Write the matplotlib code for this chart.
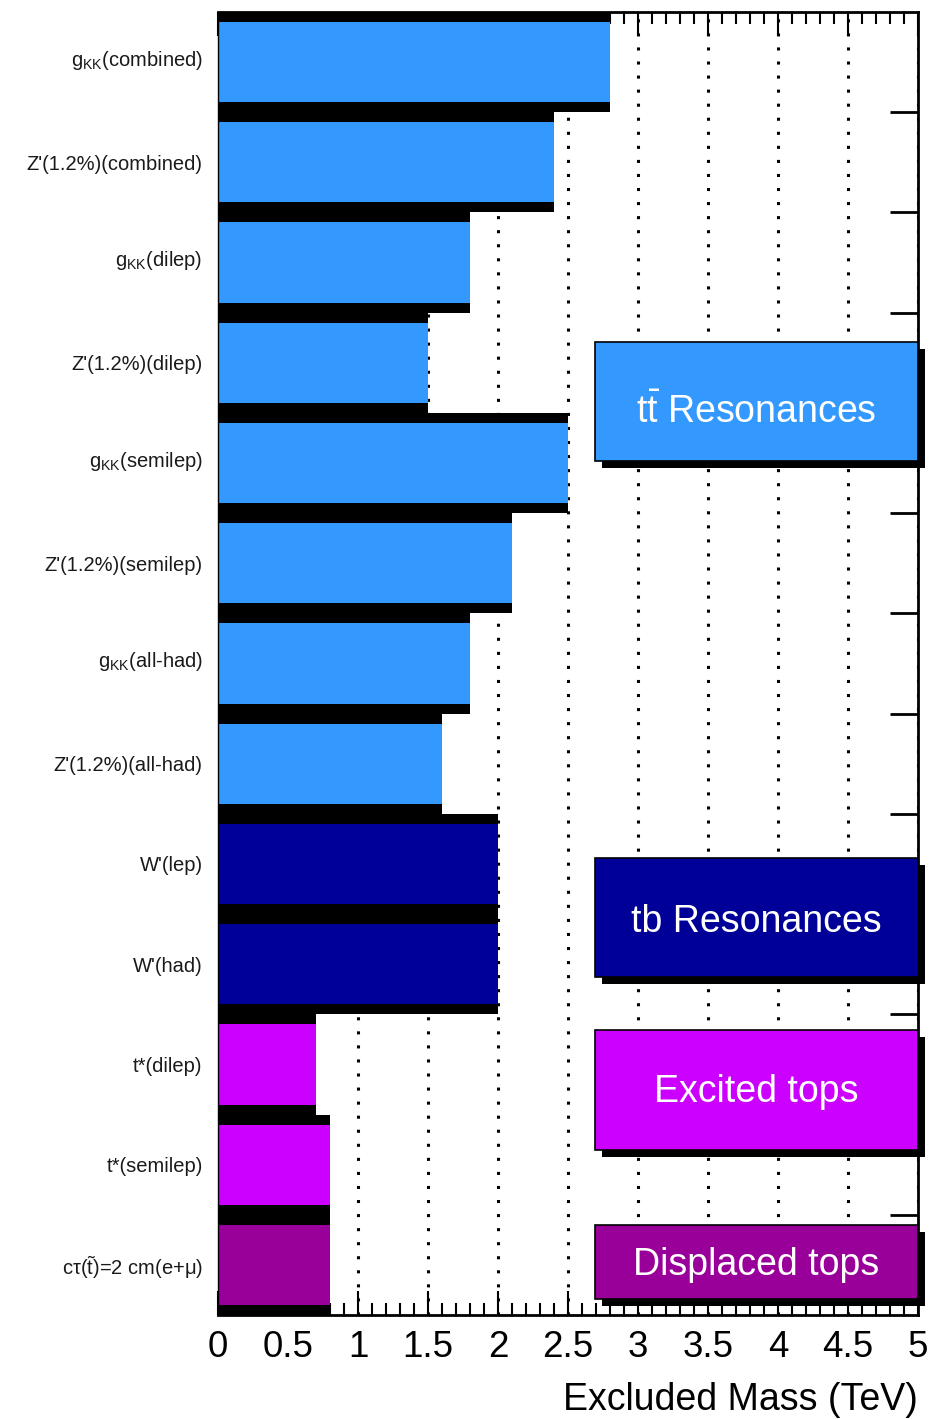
import matplotlib
matplotlib.use("Agg")
import matplotlib.pyplot as plt
from matplotlib.patches import Rectangle
from matplotlib.transforms import offset_copy, ScaledTranslation
from matplotlib.ticker import MultipleLocator, FixedLocator, FuncFormatter

plt.rcParams['font.family'] = ['Liberation Sans', 'DejaVu Sans']
plt.rcParams['mathtext.fontset'] = 'custom'
plt.rcParams['mathtext.rm'] = 'Liberation Sans'
plt.rcParams['mathtext.it'] = 'Liberation Sans:italic'
plt.rcParams['mathtext.bf'] = 'Liberation Sans:bold'

# ---------------- data ----------------
labels = [
    r'g$_{\mathrm{KK}}$(combined)',
    "Z'(1.2%)(combined)",
    r'g$_{\mathrm{KK}}$(dilep)',
    "Z'(1.2%)(dilep)",
    r'g$_{\mathrm{KK}}$(semilep)',
    "Z'(1.2%)(semilep)",
    r'g$_{\mathrm{KK}}$(all-had)',
    "Z'(1.2%)(all-had)",
    "W'(lep)",
    "W'(had)",
    "t*(dilep)",
    "t*(semilep)",
    r'c$\mathrm{\tau}$($\tilde{\mathrm{t}}$)=2 cm(e+$\mathrm{\mu}$)',
]
excluded_mass = [2.8, 2.4, 1.8, 1.5, 2.5, 2.1, 1.8, 1.6, 2.0, 2.0, 0.7, 0.8, 0.8]
groups = ['tt', 'tt', 'tt', 'tt', 'tt', 'tt', 'tt', 'tt', 'tb', 'tb', 'ex', 'ex', 'disp']
group_colors = {'tt': '#3399FF', 'tb': '#000099', 'ex': '#CC00FF', 'disp': '#990099'}
group_titles = {'tt': r'$\mathrm{t\bar{t}}$ Resonances', 'tb': 'tb Resonances',
                'ex': 'Excited tops', 'disp': 'Displaced tops'}
x_ticks = [0, 0.5, 1, 1.5, 2, 2.5, 3, 3.5, 4, 4.5, 5]
xlabel = 'Excluded Mass (TeV)'

# ---------------- figure ----------------
W, H = 936, 1419
fig = plt.figure(figsize=(W / 100, H / 100), dpi=100)
ax = fig.add_axes([218 / W, (H - 1315) / H, 700 / W, (1315 - 12) / H])

n = len(labels)
ax.set_xlim(0, 5)
ax.set_ylim(n, 0)
ax.set_axisbelow(True)

for i, (v, g) in enumerate(zip(excluded_mass, groups)):
    ax.barh(i + 0.5, v, height=1.0, left=0, color='black', zorder=2, linewidth=0)
    ax.barh(i + 0.5, v, height=0.8, left=0, color=group_colors[g], zorder=2.1, linewidth=0)

# ticks
ax.xaxis.set_major_locator(FixedLocator(x_ticks))
ax.xaxis.set_minor_locator(MultipleLocator(0.1))
ax.xaxis.set_major_formatter(FuncFormatter(lambda x, p: ('%g' % x)))
ax.tick_params(axis='x', which='major', direction='in', top=True, bottom=True,
               length=17, width=1.5, labelsize=26.5, pad=11)
ax.tick_params(axis='x', which='minor', direction='in', top=True, bottom=True,
               length=8.5, width=1.5)

ax.set_yticks([i + 0.5 for i in range(n)])
ax.set_yticklabels(labels)
ax.yaxis.set_minor_locator(FixedLocator(list(range(1, n))))
ax.tick_params(axis='y', which='major', length=0, labelsize=14.5, pad=11, labelcolor='#1a1a1a')
ax.tick_params(axis='y', which='minor', direction='in', left=False, right=True,
               length=20, width=2)

# shift the subscripted labels up a little (as in the reference)
up = ScaledTranslation(0, 5 / 100, fig.dpi_scale_trans)
for lab in ax.get_yticklabels():
    if 'KK' in lab.get_text():
        lab.set_transform(lab.get_transform() + up)

ax.grid(axis='x', which='major', color='black', linewidth=2.2, linestyle=(0, (1, 3.6)))

for s in ax.spines.values():
    s.set_linewidth(2)
ax.spines['left'].set_linewidth(1)

# category boxes (layout in data coordinates)
box_x0 = 2.693
box_rows = {'tt': (3.293, 4.481), 'tb': (8.443, 9.631), 'ex': (10.16, 11.357), 'disp': (12.106, 12.844)}
text_shift = {'tt': 0.07, 'tb': 0.0, 'ex': -0.02, 'disp': -0.01}
shadow_tr = offset_copy(ax.transData, fig=fig, x=7, y=-7, units='dots')
for g, (y0, y1) in box_rows.items():
    ax.add_patch(Rectangle((box_x0, y0), 5 - box_x0, y1 - y0, transform=shadow_tr,
                           facecolor='black', edgecolor='none', zorder=5, clip_on=False))
    ax.add_patch(Rectangle((box_x0, y0), 5 - box_x0, y1 - y0, facecolor=group_colors[g],
                           edgecolor='black', linewidth=1.2, zorder=6, clip_on=False))
    ax.text((box_x0 + 5) / 2, (y0 + y1) / 2 + 0.14 + text_shift[g], group_titles[g], color='white',
            fontsize=27, ha='center', va='baseline', zorder=7)

fig.text(918 / W, (H - 1410) / H, xlabel, fontsize=27, ha='right', va='baseline')

fig.savefig('out.png', dpi=100)
